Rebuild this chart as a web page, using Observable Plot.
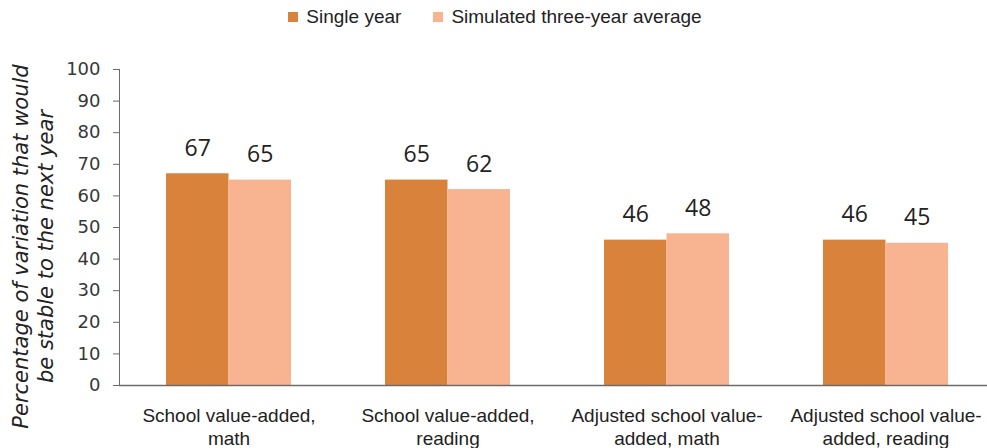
<!DOCTYPE html>
<html><head><meta charset="utf-8">
<script src="https://cdn.jsdelivr.net/npm/d3@7"></script>
<script src="https://cdn.jsdelivr.net/npm/@observablehq/plot@0.6"></script>
<style>
body{margin:0;background:#fff;}
#legend{height:34px;display:flex;justify-content:center;align-items:center;font:19px "Liberation Sans",Arial,sans-serif;color:#222;padding-left:3px;box-sizing:border-box;}
#legend .item{display:flex;align-items:center;margin:0 16px;}
#legend .sw{width:10px;height:10px;margin-right:8px;}
g[aria-label="y-axis tick label"] text{font-family:"DejaVu Sans",sans-serif;}
</style></head>
<body><div id="legend"></div><div id="chart"></div>
<script>
const categories = ["School value-added,\nmath", "School value-added,\nreading", "Adjusted school value-\nadded, math", "Adjusted school value-\nadded, reading"];
const seriesNames = ["Single year", "Simulated three-year average"];
const singleYear = [67, 65, 46, 46];
const threeYearAvg = [65, 62, 48, 45];
const yTicks = [0, 10, 20, 30, 40, 50, 60, 70, 80, 90, 100];
const yLabel = "Percentage of variation that would\nbe stable to the next year";
const colors = ["#D9823C", "#F8B490"];

const rows = categories.flatMap((c, i) => [
  {cat: c, series: seriesNames[0], v: singleYear[i]},
  {cat: c, series: seriesNames[1], v: threeYearAvg[i]}
]);

const legend = document.getElementById("legend");
seriesNames.forEach((s, i) => {
  const it = document.createElement("div");
  it.className = "item";
  it.innerHTML = `<span class="sw" style="background:${colors[i]}"></span><span>${s}</span>`;
  legend.appendChild(it);
});

const half = 62.5;
const chart = Plot.plot({
  width: 987,
  height: 414,
  marginTop: 35,
  marginBottom: 63,
  marginLeft: 119,
  marginRight: 0,
  style: {fontFamily: "'Liberation Sans', Arial, sans-serif", background: "#fff"},
  x: {domain: categories, range: [164.5, 948.6], paddingInner: 0.431, paddingOuter: 0, axis: null},
  y: {domain: [0, 100], axis: null},
  marks: [
    Plot.barY(rows.filter(d => d.series === seriesNames[0]), {x: "cat", y: "v", fill: colors[0], insetRight: half}),
    Plot.barY(rows.filter(d => d.series === seriesNames[1]), {x: "cat", y: "v", fill: colors[1], insetLeft: half}),
    Plot.text(rows.filter(d => d.series === seriesNames[0]), {x: "cat", y: "v", text: d => String(d.v), dx: -half / 2, dy: -18, lineAnchor: "bottom", fontSize: 23, fontFamily: "'Open Sans', sans-serif", fill: "#222"}),
    Plot.text(rows.filter(d => d.series === seriesNames[1]), {x: "cat", y: "v", text: d => String(d.v), dx: half / 2, dy: -18, lineAnchor: "bottom", fontSize: 23, fontFamily: "'Open Sans', sans-serif", fill: "#222"}),
    Plot.axisY({ticks: yTicks, tickSize: 6, tickPadding: 13, fontSize: 18, stroke: "#6b6b6b", strokeOpacity: 1, color: "#383838", label: null}),
    Plot.axisX({tickSize: 0, tickPadding: 20, fontSize: 19, lineHeight: 1.22, color: "#222", label: null}),
    Plot.frame({anchor: "left", stroke: "#6b6b6b"}),
    Plot.ruleY([0], {stroke: "#6b6b6b", strokeWidth: 1.5}),
    Plot.text([yLabel], {frameAnchor: "left", textAnchor: "middle", rotate: -90, dx: -87, dy: 19, fontSize: 21, fontStyle: "italic", fontFamily: "'DejaVu Sans', sans-serif", fill: "#222", lineHeight: 1.19})
  ]
});
document.getElementById("chart").appendChild(chart);
</script>
</body></html>
